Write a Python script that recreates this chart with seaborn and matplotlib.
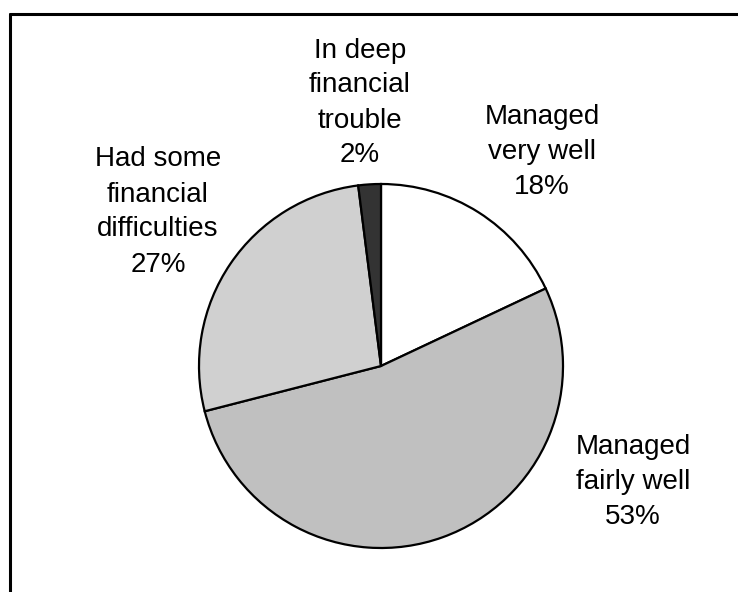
import matplotlib
matplotlib.use("Agg")
import matplotlib.pyplot as plt
import seaborn as sns
from matplotlib.lines import Line2D

# Survey: how households managed financially
categories = ["Managed\nvery well", "Managed\nfairly well",
              "Had some\nfinancial\ndifficulties", "In deep\nfinancial\ntrouble"]
shares = [18, 53, 27, 2]
colors = ["#ffffff", "#c0c0c0", "#d0d0d0", "#333333"]

# Layout (pixels, origin at top-left of the figure)
W, H = 738, 592
pie_center = (381, 366)
pie_radius = 182
label_centers = [(542, 152), (633, 482), (158, 212), (360, 103)]

sns.set_theme(style="white")
plt.rcParams["font.family"] = ["Liberation Sans", "DejaVu Sans"]

fig = plt.figure(figsize=(W / 100, H / 100), dpi=100)
fig.patch.set_facecolor("white")
ax = fig.add_axes([0, 0, 1, 1])

ax.pie(shares, colors=colors, startangle=90, counterclock=False,
       center=(pie_center[0], H - pie_center[1]), radius=pie_radius,
       wedgeprops=dict(edgecolor="black", linewidth=1.6))

for cat, share, (lx, ly) in zip(categories, shares, label_centers):
    ax.text(lx, H - ly, f"{cat}\n{share}%", ha="center", va="center",
            fontsize=20, color="black", linespacing=1.45)

ax.set_xlim(0, W)
ax.set_ylim(0, H)
ax.set_aspect("equal")
ax.axis("off")

# Chart frame: left and top edges
fig.add_artist(Line2D([10 / W, 10 / W], [0, 1 - 14 / H], color="black", lw=2.2,
                      transform=fig.transFigure))
fig.add_artist(Line2D([10 / W, 1], [1 - 14 / H, 1 - 14 / H], color="black", lw=2.2,
                      transform=fig.transFigure))

fig.savefig("out.png", dpi=100)
